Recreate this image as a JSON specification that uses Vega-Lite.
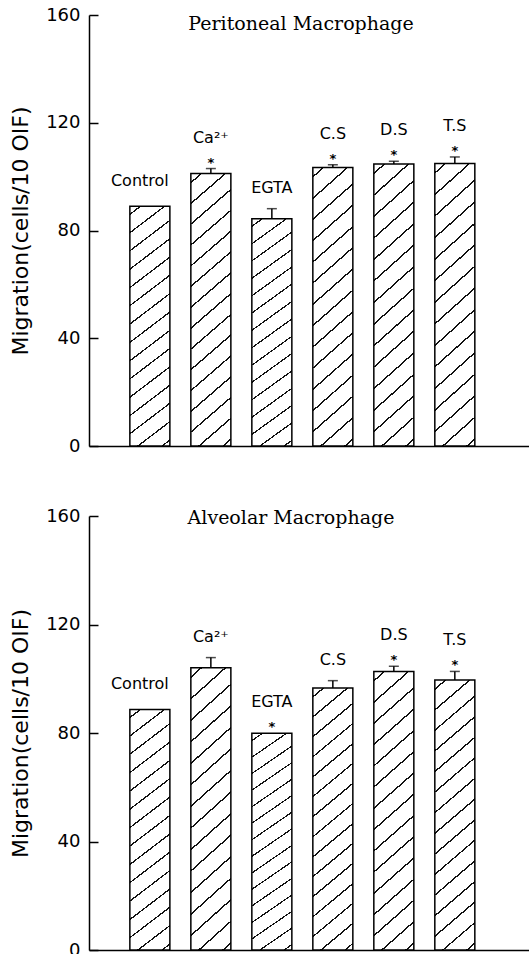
{
  "$schema": "https://vega.github.io/schema/vega-lite/v6.json",
  "background": "white",
  "padding": {"left": 9, "top": 6, "right": 0, "bottom": 0},
  "spacing": 52,
  "data": {"values": [
    {"panel": "Peritoneal", "group": "Control", "value": 89.0, "hi": 89.0, "sig": false},
    {"panel": "Peritoneal", "group": "Ca²⁺", "value": 101.2, "hi": 103.0, "sig": true},
    {"panel": "Peritoneal", "group": "EGTA", "value": 84.4, "hi": 88.1, "sig": false},
    {"panel": "Peritoneal", "group": "C.S", "value": 103.4, "hi": 104.4, "sig": true},
    {"panel": "Peritoneal", "group": "D.S", "value": 104.7, "hi": 105.7, "sig": true},
    {"panel": "Peritoneal", "group": "T.S", "value": 104.9, "hi": 107.3, "sig": true},
    {"panel": "Alveolar", "group": "Control", "value": 88.7, "hi": 88.7, "sig": false},
    {"panel": "Alveolar", "group": "Ca²⁺", "value": 104.1, "hi": 107.8, "sig": false},
    {"panel": "Alveolar", "group": "EGTA", "value": 79.9, "hi": 79.9, "sig": true},
    {"panel": "Alveolar", "group": "C.S", "value": 96.6, "hi": 99.3, "sig": false},
    {"panel": "Alveolar", "group": "D.S", "value": 102.7, "hi": 104.6, "sig": true},
    {"panel": "Alveolar", "group": "T.S", "value": 99.5, "hi": 102.7, "sig": true}
  ]},
  "config": {
    "view": {"stroke": null},
    "axis": {"grid": false, "domainColor": "black", "domainWidth": 1.5, "tickColor": "black", "tickWidth": 1.5, "labelColor": "black", "titleColor": "black", "labelFont": "DejaVu Sans", "titleFont": "DejaVu Sans"},
    "title": {"font": "DejaVu Serif", "fontSize": 19, "fontWeight": "normal", "color": "black", "frame": "group", "baseline": "alphabetic"},
    "text": {"font": "DejaVu Sans", "color": "black"},
    "bar": {
      "stroke": "black", "strokeWidth": 1.5,
      "fill": {"gradient": "linear", "x1": 0, "y1": 0, "x2": 0.141, "y2": 1.109, "stops": [
        {"offset": 0, "color": "white"},
        {"offset": 0.027, "color": "white"}, {"offset": 0.027, "color": "#111"}, {"offset": 0.033, "color": "#111"}, {"offset": 0.033, "color": "white"},
        {"offset": 0.095, "color": "white"}, {"offset": 0.095, "color": "#111"}, {"offset": 0.101, "color": "#111"}, {"offset": 0.101, "color": "white"},
        {"offset": 0.162, "color": "white"}, {"offset": 0.162, "color": "#111"}, {"offset": 0.168, "color": "#111"}, {"offset": 0.168, "color": "white"},
        {"offset": 0.230, "color": "white"}, {"offset": 0.230, "color": "#111"}, {"offset": 0.236, "color": "#111"}, {"offset": 0.236, "color": "white"},
        {"offset": 0.298, "color": "white"}, {"offset": 0.298, "color": "#111"}, {"offset": 0.304, "color": "#111"}, {"offset": 0.304, "color": "white"},
        {"offset": 0.365, "color": "white"}, {"offset": 0.365, "color": "#111"}, {"offset": 0.371, "color": "#111"}, {"offset": 0.371, "color": "white"},
        {"offset": 0.433, "color": "white"}, {"offset": 0.433, "color": "#111"}, {"offset": 0.439, "color": "#111"}, {"offset": 0.439, "color": "white"},
        {"offset": 0.501, "color": "white"}, {"offset": 0.501, "color": "#111"}, {"offset": 0.507, "color": "#111"}, {"offset": 0.507, "color": "white"},
        {"offset": 0.569, "color": "white"}, {"offset": 0.569, "color": "#111"}, {"offset": 0.575, "color": "#111"}, {"offset": 0.575, "color": "white"},
        {"offset": 0.636, "color": "white"}, {"offset": 0.636, "color": "#111"}, {"offset": 0.642, "color": "#111"}, {"offset": 0.642, "color": "white"},
        {"offset": 0.704, "color": "white"}, {"offset": 0.704, "color": "#111"}, {"offset": 0.710, "color": "#111"}, {"offset": 0.710, "color": "white"},
        {"offset": 0.772, "color": "white"}, {"offset": 0.772, "color": "#111"}, {"offset": 0.778, "color": "#111"}, {"offset": 0.778, "color": "white"},
        {"offset": 0.839, "color": "white"}, {"offset": 0.839, "color": "#111"}, {"offset": 0.845, "color": "#111"}, {"offset": 0.845, "color": "white"},
        {"offset": 0.907, "color": "white"}, {"offset": 0.907, "color": "#111"}, {"offset": 0.913, "color": "#111"}, {"offset": 0.913, "color": "white"},
        {"offset": 0.975, "color": "white"}, {"offset": 0.975, "color": "#111"}, {"offset": 0.981, "color": "#111"}, {"offset": 0.981, "color": "white"},
        {"offset": 1, "color": "white"}
      ]}
    }
  },
  "vconcat": [
    {
      "width": 440, "height": 431,
      "title": {"text": "Peritoneal Macrophage", "offset": -28, "dx": -8},
      "transform": [{"filter": "datum.panel === 'Peritoneal'"}],
      "encoding": {
        "x": {"field": "group", "type": "nominal", "sort": null, "scale": {"paddingInner": 0.344, "paddingOuter": 0.779, "align": 0.43}, "axis": {"title": null, "labels": false, "ticks": false}}
      },
      "layer": [
        {"mark": {"type": "bar"},
         "encoding": {"y": {"field": "value", "type": "quantitative", "scale": {"domain": [0, 160], "nice": false}, "axis": {"values": [0, 40, 80, 120, 160], "title": "Migration(cells/10 OIF)", "titleFontSize": 22, "titleFontWeight": "normal", "labelFontSize": 18, "tickSize": -9, "labelPadding": 18, "titlePadding": 13}}}},
        {"transform": [{"filter": "datum.hi > datum.value"}],
         "mark": {"type": "rule", "color": "black", "strokeWidth": 1.5},
         "encoding": {"y": {"field": "value", "type": "quantitative"}, "y2": {"field": "hi"}}},
        {"transform": [{"filter": "datum.hi > datum.value"}],
         "mark": {"type": "tick", "color": "black", "thickness": 1.5, "orient": "horizontal"},
         "encoding": {"y": {"field": "hi", "type": "quantitative"}, "size": {"value": 10}}},
        {"transform": [{"filter": "datum.sig"}],
         "mark": {"type": "text", "fontSize": 13, "fontWeight": "bold", "dy": -2, "baseline": "alphabetic"},
         "encoding": {"y": {"field": "hi", "type": "quantitative"}, "text": {"value": "*"}}},
        {"transform": [{"filter": "datum.sig"}],
         "mark": {"type": "text", "fontSize": 16, "dy": -26, "baseline": "alphabetic"},
         "encoding": {"y": {"field": "hi", "type": "quantitative"}, "text": {"field": "group"}}},
        {"transform": [{"filter": "!datum.sig && datum.group !== 'Control'"}],
         "mark": {"type": "text", "fontSize": 16, "dy": -16, "baseline": "alphabetic"},
         "encoding": {"y": {"field": "hi", "type": "quantitative"}, "text": {"field": "group"}}},
        {"transform": [{"filter": "datum.group === 'Control'"}],
         "mark": {"type": "text", "fontSize": 16, "dy": -20, "dx": -10, "baseline": "alphabetic"},
         "encoding": {"y": {"field": "hi", "type": "quantitative"}, "text": {"field": "group"}}}
      ]
    },
    {
      "width": 440, "height": 434,
      "title": {"text": "Alveolar Macrophage", "offset": -21, "dx": -18},
      "transform": [{"filter": "datum.panel === 'Alveolar'"}],
      "encoding": {
        "x": {"field": "group", "type": "nominal", "sort": null, "scale": {"paddingInner": 0.344, "paddingOuter": 0.779, "align": 0.43}, "axis": {"title": null, "labels": false, "ticks": false}}
      },
      "layer": [
        {"mark": {"type": "bar"},
         "encoding": {"y": {"field": "value", "type": "quantitative", "scale": {"domain": [0, 160], "nice": false}, "axis": {"values": [0, 40, 80, 120, 160], "title": "Migration(cells/10 OIF)", "titleFontSize": 22, "titleFontWeight": "normal", "labelFontSize": 18, "tickSize": -9, "labelPadding": 18, "titlePadding": 13}}}},
        {"transform": [{"filter": "datum.hi > datum.value"}],
         "mark": {"type": "rule", "color": "black", "strokeWidth": 1.5},
         "encoding": {"y": {"field": "value", "type": "quantitative"}, "y2": {"field": "hi"}}},
        {"transform": [{"filter": "datum.hi > datum.value"}],
         "mark": {"type": "tick", "color": "black", "thickness": 1.5, "orient": "horizontal"},
         "encoding": {"y": {"field": "hi", "type": "quantitative"}, "size": {"value": 10}}},
        {"transform": [{"filter": "datum.sig"}],
         "mark": {"type": "text", "fontSize": 13, "fontWeight": "bold", "dy": -2, "baseline": "alphabetic"},
         "encoding": {"y": {"field": "hi", "type": "quantitative"}, "text": {"value": "*"}}},
        {"transform": [{"filter": "datum.sig"}],
         "mark": {"type": "text", "fontSize": 16, "dy": -26, "baseline": "alphabetic"},
         "encoding": {"y": {"field": "hi", "type": "quantitative"}, "text": {"field": "group"}}},
        {"transform": [{"filter": "!datum.sig && datum.group !== 'Control'"}],
         "mark": {"type": "text", "fontSize": 16, "dy": -16, "baseline": "alphabetic"},
         "encoding": {"y": {"field": "hi", "type": "quantitative"}, "text": {"field": "group"}}},
        {"transform": [{"filter": "datum.group === 'Control'"}],
         "mark": {"type": "text", "fontSize": 16, "dy": -20, "dx": -10, "baseline": "alphabetic"},
         "encoding": {"y": {"field": "hi", "type": "quantitative"}, "text": {"field": "group"}}}
      ]
    }
  ]
}
